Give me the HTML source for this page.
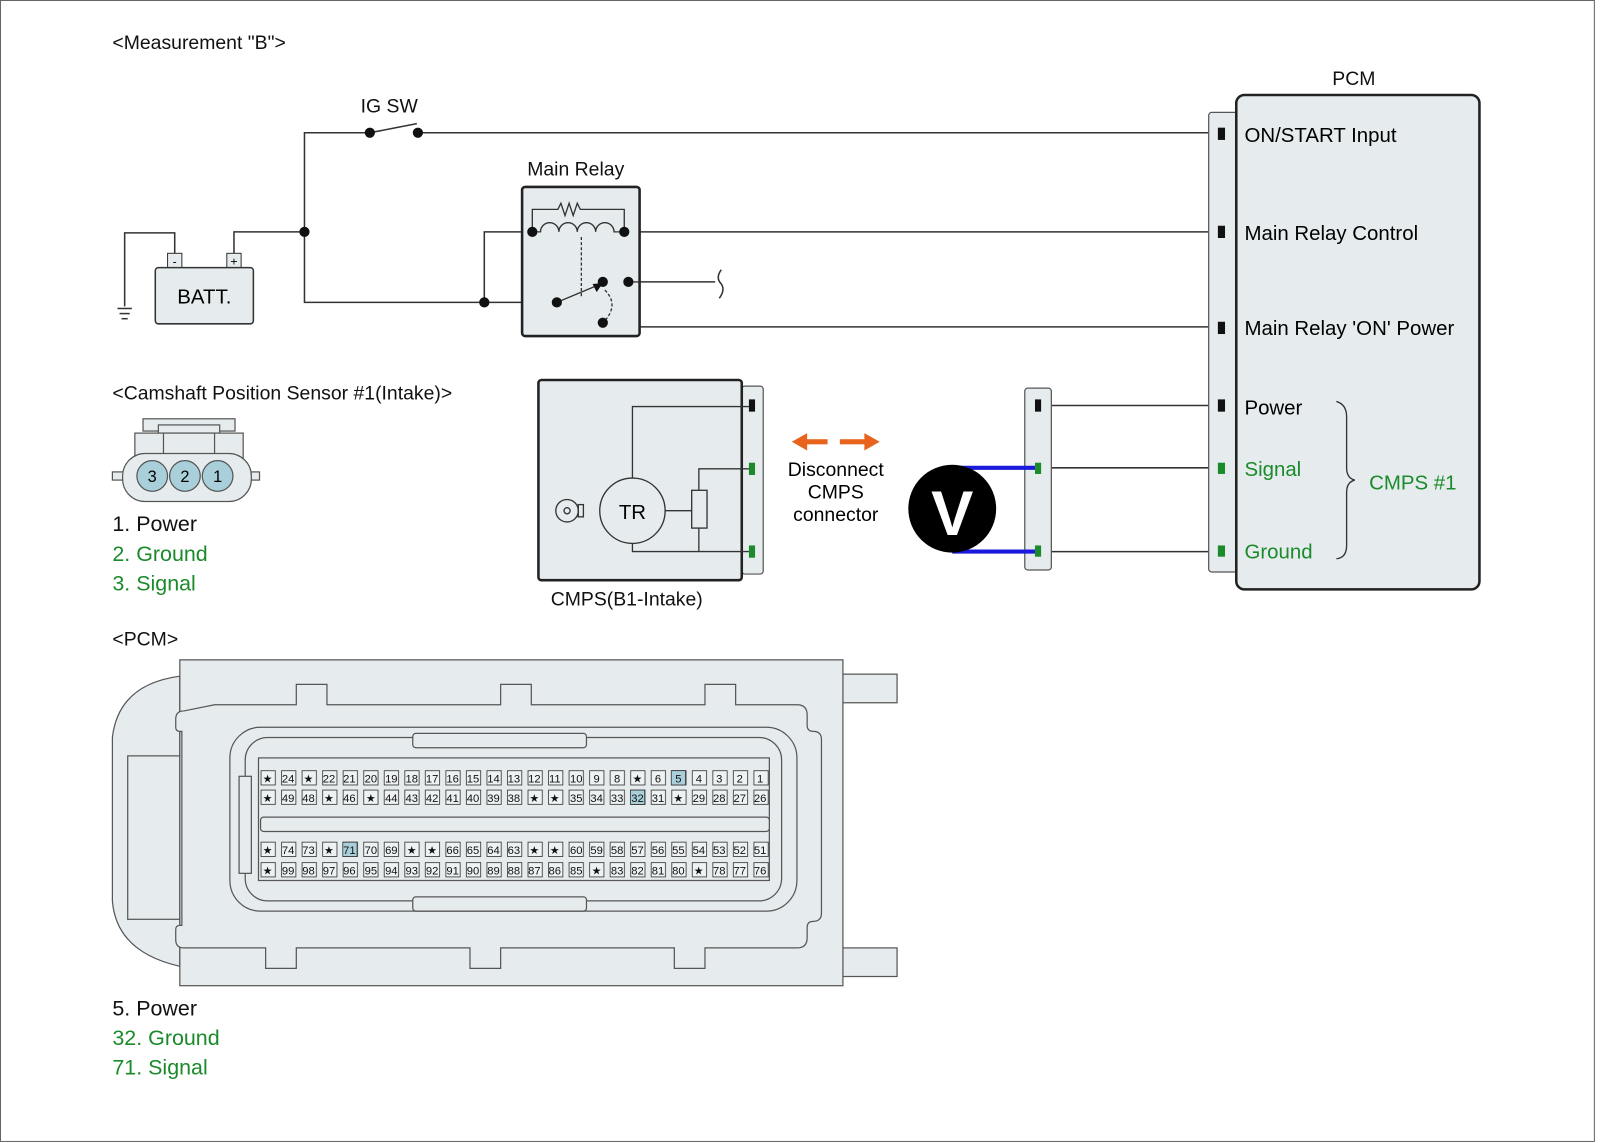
<!DOCTYPE html>
<html><head><meta charset="utf-8"><style>
html,body{margin:0;padding:0;background:#fff}
svg{display:block}
text{font-family:"Liberation Sans",sans-serif}
.p text{font-size:11px;text-anchor:middle}
</style></head><body>
<svg width="1600" height="1143" viewBox="0 0 1566 1119" preserveAspectRatio="none" xmlns="http://www.w3.org/2000/svg">
<defs>
<pattern id="pa" x="255" y="754" width="20.1" height="15" patternUnits="userSpaceOnUse"><rect x="0.5" y="0.5" width="14" height="14" fill="#eef2f3" stroke="#333" stroke-width="0.8"/></pattern>
<pattern id="pb" x="255" y="773" width="20.1" height="15" patternUnits="userSpaceOnUse"><rect x="0.5" y="0.5" width="14" height="14" fill="#eef2f3" stroke="#333" stroke-width="0.8"/></pattern>
<pattern id="pc" x="255" y="824" width="20.1" height="15" patternUnits="userSpaceOnUse"><rect x="0.5" y="0.5" width="14" height="14" fill="#eef2f3" stroke="#333" stroke-width="0.8"/></pattern>
<pattern id="pd" x="255" y="844" width="20.1" height="15" patternUnits="userSpaceOnUse"><rect x="0.5" y="0.5" width="14" height="14" fill="#eef2f3" stroke="#333" stroke-width="0.8"/></pattern>
</defs>
<rect x="0.5" y="0.5" width="1560" height="1117" fill="#fff" stroke="#666" stroke-width="1"/>
<g font-size="19" fill="#111">
<text x="110" y="48">&lt;Measurement "B"&gt;</text>
<text x="110" y="391">&lt;Camshaft Position Sensor #1(Intake)&gt;</text>
<text x="110" y="632">&lt;PCM&gt;</text>
<text x="353" y="110">IG SW</text>
<text x="516" y="172">Main Relay</text>
<text x="1304" y="83">PCM</text>
<text x="539" y="593">CMPS(B1-Intake)</text>
</g>
<g font-size="21">
<text x="110" y="520" fill="#111">1. Power</text>
<text x="110" y="549" fill="#1a8a2a">2. Ground</text>
<text x="110" y="578" fill="#1a8a2a">3. Signal</text>
<text x="110" y="994" fill="#111">5. Power</text>
<text x="110" y="1023" fill="#1a8a2a">32. Ground</text>
<text x="110" y="1052" fill="#1a8a2a">71. Signal</text>
</g>
<g stroke="#333" stroke-width="1.5" fill="none">
<polyline points="171,250 171,228 122,228 122,300"/>
<line x1="115" y1="302" x2="129" y2="302"/><line x1="117" y1="307" x2="127" y2="307"/><line x1="119" y1="312" x2="125" y2="312"/>
<polyline points="229,250 229,227 298,227"/>
<polyline points="362,130 298,130 298,296 545,296"/>
<line x1="362" y1="130" x2="408" y2="121"/>
<line x1="409" y1="130" x2="1193" y2="130"/>
<polyline points="474,296 474,227 521,227"/>
<line x1="611" y1="227" x2="1193" y2="227"/>
<line x1="615" y1="276" x2="700" y2="276"/>
<path d="M706,264 q-6,8 0,14 q4,6 -2,14"/>
<polyline points="626,276 626,320 1193,320"/>
<line x1="1020" y1="397" x2="1193" y2="397"/>
<line x1="1020" y1="458" x2="1193" y2="458"/>
<line x1="1020" y1="540" x2="1193" y2="540"/>
</g>
<rect x="164" y="248" width="14" height="14" fill="#e6ecee" stroke="#333"/>
<rect x="222" y="248" width="14" height="14" fill="#e6ecee" stroke="#333"/>
<text x="171" y="260" font-size="12" text-anchor="middle">-</text>
<text x="229" y="260" font-size="12" text-anchor="middle">+</text>
<rect x="152" y="262" width="96" height="55" rx="3" fill="#e6ecee" stroke="#333" stroke-width="1.5"/>
<text x="200" y="297" font-size="20" text-anchor="middle">BATT.</text>
<rect x="511" y="183" width="115" height="146" rx="3" fill="#e6ecee" stroke="#222" stroke-width="2.5"/>
<g stroke="#333" stroke-width="1.3" fill="none">
<polyline points="521,227 521,205 546,205 549,199 553,211 557,199 561,211 565,199 568,205 611,205 611,227"/>
<path d="M521,227 h8 a9,9 0 0 1 18,0 a9,9 0 0 1 18,0 a9,9 0 0 1 18,0 a9,9 0 0 1 18,0 h10"/>
<line x1="569" y1="232" x2="569" y2="290" stroke-dasharray="3,2"/>
<path d="M592,284 q14,14 0,30" stroke-dasharray="3,2"/>
<line x1="545" y1="296" x2="588" y2="278"/>
<polyline points="611,276 626,276"/>
</g>
<polygon points="590,277 580,278 584,286" fill="#111"/>
<g fill="#111">
<circle cx="298" cy="227" r="5"/><circle cx="362" cy="130" r="5"/><circle cx="409" cy="130" r="5"/>
<circle cx="474" cy="296" r="5"/><circle cx="545" cy="296" r="5"/><circle cx="521" cy="227" r="5"/><circle cx="611" cy="227" r="5"/>
<circle cx="590" cy="276" r="5"/><circle cx="615" cy="276" r="5"/><circle cx="590" cy="316" r="5"/>
</g>
<rect x="1183" y="110" width="30" height="450" rx="3" fill="#e6ecee" stroke="#555" stroke-width="1.2"/>
<rect x="1210" y="93" width="238" height="484" rx="8" fill="#e6ecee" stroke="#222" stroke-width="2.5"/>
<g fill="#111"><rect x="1192" y="125" width="7" height="12"/><rect x="1192" y="221" width="7" height="12"/><rect x="1192" y="315" width="7" height="12"/><rect x="1192" y="391" width="7" height="12"/></g>
<g fill="#1a8a2a"><rect x="1192" y="453" width="7" height="11"/><rect x="1192" y="534" width="7" height="11"/></g>
<g font-size="20">
<text x="1218" y="139">ON/START Input</text>
<text x="1218" y="235">Main Relay Control</text>
<text x="1218" y="328">Main Relay 'ON' Power</text>
<text x="1218" y="406">Power</text>
<text x="1218" y="466" fill="#1a8a2a">Signal</text>
<text x="1218" y="547" fill="#1a8a2a">Ground</text>
<text x="1340" y="479" fill="#1a8a2a">CMPS #1</text>
</g>
<path d="M1308,393 q10,3 10,15 v50 q0,10 8,12 q-8,2 -8,12 v52 q0,12 -10,13" stroke="#333" stroke-width="1.3" fill="none"/>
<rect x="726" y="378" width="21" height="184" rx="3" fill="#e6ecee" stroke="#555" stroke-width="1.2"/>
<rect x="527" y="372" width="199" height="196" rx="3" fill="#e6ecee" stroke="#222" stroke-width="2.5"/>
<rect x="733" y="391" width="6" height="12" fill="#111"/>
<rect x="733" y="453" width="6" height="12" fill="#1a8a2a"/><rect x="733" y="534" width="6" height="12" fill="#1a8a2a"/>
<g stroke="#333" stroke-width="1.3" fill="none">
<polyline points="619,468 619,398 733,398"/>
<polyline points="684,480 684,459 733,459"/>
<rect x="677" y="480" width="15" height="37" fill="#e6ecee"/>
<polyline points="684,517 684,540"/>
<polyline points="619,532 619,540 733,540"/>
<line x1="651" y1="500" x2="677" y2="500"/>
<circle cx="619" cy="500" r="32" fill="#e6ecee"/>
<circle cx="555" cy="500" r="11"/><circle cx="555" cy="500" r="3"/>
<rect x="566" y="494" width="5" height="12"/>
</g>
<text x="619" y="508" font-size="20" text-anchor="middle">TR</text>
<g fill="#e8641c">
<rect x="786" y="430" width="24" height="5"/><polygon points="775,432.5 790,424 790,441"/>
<rect x="822" y="430" width="26" height="5"/><polygon points="861,432.5 846,424 846,441"/>
</g>
<g font-size="19" text-anchor="middle">
<text x="818" y="466">Disconnect</text><text x="818" y="488">CMPS</text><text x="818" y="510">connector</text>
</g>
<rect x="1003" y="380" width="26" height="178" rx="3" fill="#e6ecee" stroke="#555" stroke-width="1.2"/>
<rect x="1013" y="391" width="6" height="12" fill="#111"/>
<rect x="1013" y="453" width="6" height="11" fill="#1a8a2a"/><rect x="1013" y="534" width="6" height="11" fill="#1a8a2a"/>
<line x1="932" y1="458" x2="1013" y2="458" stroke="#1a1adc" stroke-width="4"/>
<line x1="932" y1="540" x2="1013" y2="540" stroke="#1a1adc" stroke-width="4"/>
<circle cx="932" cy="498" r="43" fill="#000"/>
<text x="932" y="524" font-size="62" font-weight="bold" fill="#fff" text-anchor="middle">V</text>
<g stroke="#555" stroke-width="1.2" fill="#e6ecee">
<rect x="140" y="410" width="90" height="12"/>
<rect x="155" y="416" width="60" height="8"/>
<rect x="132" y="424" width="106" height="30"/>
<rect x="160" y="424" width="50" height="30"/>
<rect x="110" y="462" width="144" height="8"/>
<rect x="120" y="444" width="126" height="47" rx="22"/>
<circle cx="149" cy="466" r="15" fill="#a9d0da"/><circle cx="181" cy="466" r="15" fill="#a9d0da"/><circle cx="213" cy="466" r="15" fill="#a9d0da"/>
</g>
<g font-size="16" text-anchor="middle"><text x="149" y="472">3</text><text x="181" y="472">2</text><text x="213" y="472">1</text></g>
<g stroke="#555" stroke-width="1.2" fill="#e6ecee">
<path d="M176,662 q-60,8 -66,60 v160 q4,50 66,64 z"/>
<rect x="125" y="740" width="51" height="160" fill="#e6ecee"/>
<rect x="825" y="660" width="53" height="28"/>
<rect x="825" y="928" width="53" height="28"/>
<rect x="176" y="646" width="649" height="319"/>
<path d="M210,690 h80 v-20 h30 v20 h170 v-20 h30 v20 h170 v-20 h30 v20 h60 q10,0 10,10 v10 q0,6 6,6 q8,0 8,8 v170 q0,8 -8,8 q-6,0 -6,6 v10 q0,10 -10,10 h-90 v20 h-30 v-20 h-170 v20 h-30 v-20 h-170 v20 h-30 v-20 h-80 q-8,0 -8,-8 v-10 q0,-4 4,-4 h2 v-190 h-2 q-4,0 -4,-4 v-8 q0,-8 8,-8 z"/>
<rect x="225" y="712" width="555" height="180" rx="30"/>
<rect x="240" y="722" width="525" height="160" rx="22"/>
<rect x="253" y="742" width="500" height="120"/>
<rect x="404" y="718" width="170" height="14" rx="3"/>
<rect x="404" y="878" width="170" height="14" rx="3"/>
<rect x="255" y="800" width="498" height="14" rx="3"/>
<rect x="234" y="760" width="12" height="95"/>
</g>
<g stroke="none">
<rect x="255" y="754" width="502" height="15" fill="url(#pa)"/>
<rect x="255" y="773" width="502" height="15" fill="url(#pb)"/>
<rect x="255" y="824" width="502" height="15" fill="url(#pc)"/>
<rect x="255" y="844" width="502" height="15" fill="url(#pd)"/>
</g>
<g fill="#a9d0da" stroke="#333" stroke-width="0.8">
<rect x="657" y="754.5" width="14" height="14"/><rect x="617" y="773.5" width="14" height="14"/><rect x="335.5" y="824.5" width="14" height="14"/>
</g>
<g class="p" fill="#111">
<text x="262" y="766">★</text><text x="282" y="766">24</text><text x="302" y="766">★</text><text x="322" y="766">22</text><text x="342" y="766">21</text><text x="363" y="766">20</text><text x="383" y="766">19</text><text x="403" y="766">18</text><text x="423" y="766">17</text><text x="443" y="766">16</text><text x="463" y="766">15</text><text x="483" y="766">14</text><text x="503" y="766">13</text><text x="523" y="766">12</text><text x="543" y="766">11</text><text x="564" y="766">10</text><text x="584" y="766">9</text><text x="604" y="766">8</text><text x="624" y="766">★</text><text x="644" y="766">6</text><text x="664" y="766">5</text><text x="684" y="766">4</text><text x="704" y="766">3</text><text x="724" y="766">2</text><text x="744" y="766">1</text>
<text x="262" y="785">★</text><text x="282" y="785">49</text><text x="302" y="785">48</text><text x="322" y="785">★</text><text x="342" y="785">46</text><text x="363" y="785">★</text><text x="383" y="785">44</text><text x="403" y="785">43</text><text x="423" y="785">42</text><text x="443" y="785">41</text><text x="463" y="785">40</text><text x="483" y="785">39</text><text x="503" y="785">38</text><text x="523" y="785">★</text><text x="543" y="785">★</text><text x="564" y="785">35</text><text x="584" y="785">34</text><text x="604" y="785">33</text><text x="624" y="785">32</text><text x="644" y="785">31</text><text x="664" y="785">★</text><text x="684" y="785">29</text><text x="704" y="785">28</text><text x="724" y="785">27</text><text x="744" y="785">26</text>
<text x="262" y="836">★</text><text x="282" y="836">74</text><text x="302" y="836">73</text><text x="322" y="836">★</text><text x="342" y="836">71</text><text x="363" y="836">70</text><text x="383" y="836">69</text><text x="403" y="836">★</text><text x="423" y="836">★</text><text x="443" y="836">66</text><text x="463" y="836">65</text><text x="483" y="836">64</text><text x="503" y="836">63</text><text x="523" y="836">★</text><text x="543" y="836">★</text><text x="564" y="836">60</text><text x="584" y="836">59</text><text x="604" y="836">58</text><text x="624" y="836">57</text><text x="644" y="836">56</text><text x="664" y="836">55</text><text x="684" y="836">54</text><text x="704" y="836">53</text><text x="724" y="836">52</text><text x="744" y="836">51</text>
<text x="262" y="856">★</text><text x="282" y="856">99</text><text x="302" y="856">98</text><text x="322" y="856">97</text><text x="342" y="856">96</text><text x="363" y="856">95</text><text x="383" y="856">94</text><text x="403" y="856">93</text><text x="423" y="856">92</text><text x="443" y="856">91</text><text x="463" y="856">90</text><text x="483" y="856">89</text><text x="503" y="856">88</text><text x="523" y="856">87</text><text x="543" y="856">86</text><text x="564" y="856">85</text><text x="584" y="856">★</text><text x="604" y="856">83</text><text x="624" y="856">82</text><text x="644" y="856">81</text><text x="664" y="856">80</text><text x="684" y="856">★</text><text x="704" y="856">78</text><text x="724" y="856">77</text><text x="744" y="856">76</text>
</g>
</svg>
</body></html>
